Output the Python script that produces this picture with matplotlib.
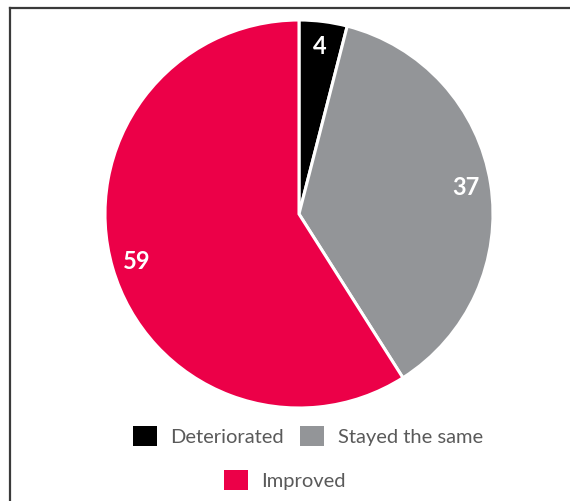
import matplotlib
matplotlib.use("Agg")
import matplotlib.pyplot as plt
from matplotlib.lines import Line2D

# data
categories = ["Deteriorated", "Stayed the same", "Improved"]
values = [4, 37, 59]
colors = ["#000000", "#939598", "#EC0048"]

plt.rcParams['font.family'] = ['Lato', 'DejaVu Sans']

fig = plt.figure(figsize=(5.70, 5.01), dpi=100)

# frame line top / left like the source page
fig.add_artist(Line2D([10/570, 10/570], [0, 1 - 8/501], color="#3a3a3a", lw=1.6,
                      transform=fig.transFigure))
fig.add_artist(Line2D([10/570, 1], [1 - 8/501, 1 - 8/501], color="#3a3a3a", lw=1.6,
                      transform=fig.transFigure))

ax = fig.add_axes([0.1842, 0.1856, 0.6807, 0.7745])
wedges, texts = ax.pie(values, colors=colors, startangle=90, counterclock=False,
                       labels=[str(v) for v in values], labeldistance=0.87,
                       wedgeprops=dict(edgecolor="white", linewidth=2.2),
                       textprops=dict(color="white", fontsize=17, fontweight="bold"))
for t in texts:
    t.set_ha("center")
    t.set_va("center")
ax.set_xlim(-1, 1)
ax.set_ylim(-1, 1)
ax.set_aspect("equal")
ax.axis("off")

legend_kw = dict(frameon=False, fontsize=14.5, labelcolor="#5a5a5a",
                 handlelength=1.2, handleheight=1.2, handletextpad=0.65,
                 columnspacing=0.8, borderpad=0)
leg1 = fig.legend(wedges[:2], categories[:2], ncol=2, loc="center",
                  bbox_to_anchor=(308/570, 1 - 436/501), **legend_kw)
leg2 = fig.legend(wedges[2:], categories[2:], ncol=1, loc="center",
                  bbox_to_anchor=(285/570, 1 - 480/501), **legend_kw)
for leg in (leg1, leg2):
    for h in leg.legend_handles:
        h.set_edgecolor("none")

fig.savefig("out.png", dpi=100, facecolor="white")
